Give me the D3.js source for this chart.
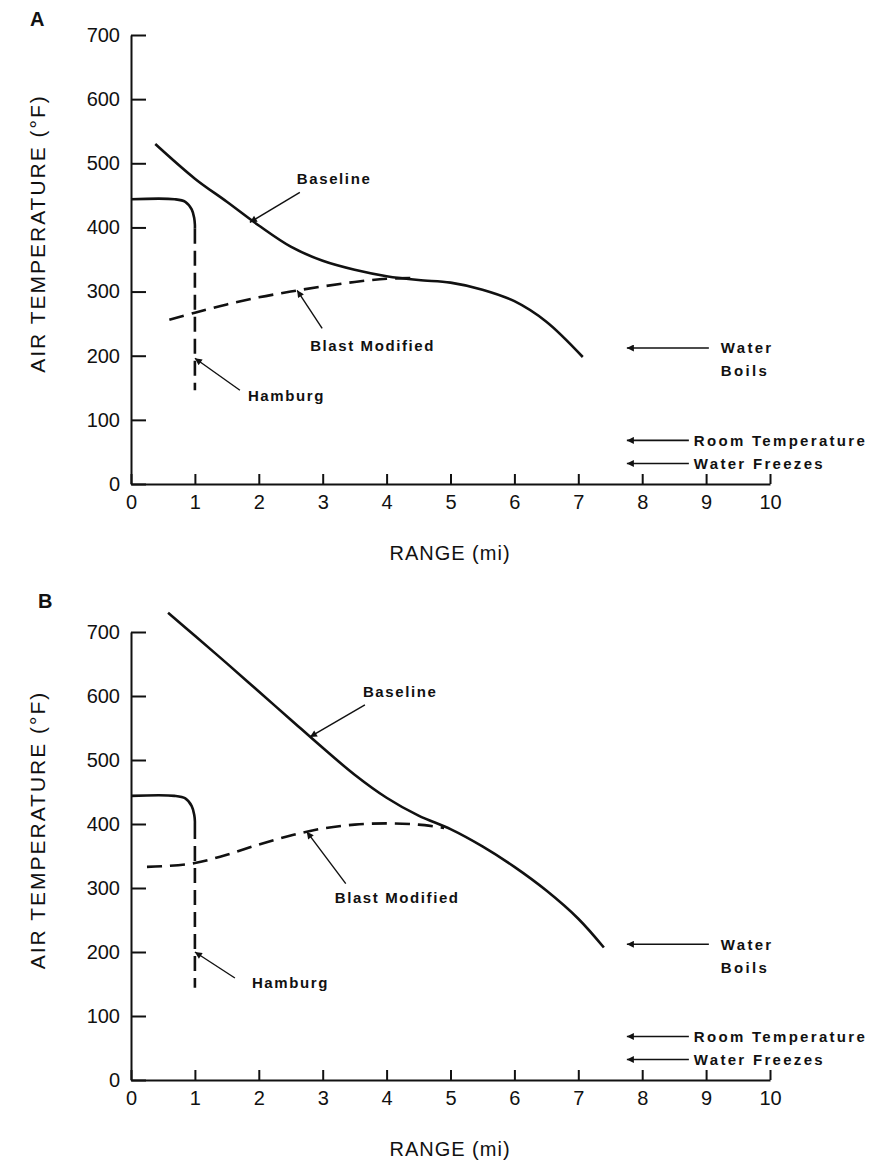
<!DOCTYPE html>
<html>
<head>
<meta charset="utf-8">
<script src="https://cdn.jsdelivr.net/npm/d3@7"></script>
<style>
  body { margin: 0; background: #fff; }
  text { font-family: "Liberation Sans", Arial, sans-serif; fill: #111; }
</style>
</head>
<body>
<div id="chart"></div>
<script>
// tick values
var rangeTicks = [0, 1, 2, 3, 4, 5, 6, 7, 8, 9, 10];
var tempTicks = [0, 100, 200, 300, 400, 500, 600, 700];

// panel A curves, [range (mi), temperature (F)]
var baselineA = [[0.38, 530], [1, 476], [1.5, 440], [2, 403], [2.5, 370], [3, 348], [3.5, 334],
                 [4, 324], [4.5, 318], [5, 314], [5.5, 303], [6, 285], [6.5, 253], [7.07, 198]];
var blastA = [[0.6, 256], [1, 267], [1.5, 280], [2, 291], [2.5, 300], [3, 308], [3.5, 315],
              [4, 320], [4.4, 321]];
var hamburgSolidA = [[0, 444], [0.68, 444], [0.85, 440], [0.95, 428], [0.99, 414], [1, 404], [1, 398]];
var hamburgDashA = [[1, 398], [1, 146]];

// panel B curves
var baselineB = [[0.58, 730], [1, 694], [1.5, 651], [2, 607], [2.5, 563], [3, 519], [3.5, 477],
                 [4, 441], [4.5, 413], [5, 392], [5.5, 365], [6, 333], [6.5, 296], [7, 252], [7.4, 207]];
var blastB = [[0.25, 333], [0.5, 334], [1, 339], [1.5, 352], [2, 368], [2.5, 382], [3, 393],
              [3.5, 399], [4, 401], [4.5, 399], [4.9, 394]];
var hamburgSolidB = [[0, 444], [0.68, 444], [0.85, 440], [0.95, 428], [0.99, 414], [1, 404], [1, 400]];
var hamburgDashB = [[1, 400], [1, 144]];

// reference temperatures on the right
var refTemps = [212, 68, 32];
var refLabels = [["Water", "Boils"], ["Room Temperature"], ["Water Freezes"]];

var width = 876, height = 1163;

var svg = d3.select("#chart").append("svg")
    .attr("width", width)
    .attr("height", height);

// arrow head
svg.append("defs").append("marker")
    .attr("id", "head")
    .attr("viewBox", "0 0 10 10")
    .attr("refX", 10)
    .attr("refY", 5)
    .attr("markerUnits", "userSpaceOnUse")
    .attr("markerWidth", 13)
    .attr("markerHeight", 7)
    .attr("orient", "auto")
    .append("path")
    .attr("d", "M0,0 L10,5 L0,10 z")
    .style("fill", "#111");

var panels = [
  { letter: "A", letterPos: [30, 26], y0: 484, y1: 35,
    baseline: baselineA, blast: blastA, hamSolid: hamburgSolidA, hamDash: hamburgDashA,
    callouts: [
      { text: "Baseline", tip: [1.86, 408], tail: [50, -30], label: [47, -44] },
      { text: "Blast Modified", tip: [2.6, 302], tail: [25, 38], label: [13, 55] },
      { text: "Hamburg", tip: [1, 196], tail: [45, 32], label: [53, 37] }
    ] },
  { letter: "B", letterPos: [38, 608], y0: 1080, y1: 632,
    baseline: baselineB, blast: blastB, hamSolid: hamburgSolidB, hamDash: hamburgDashB,
    callouts: [
      { text: "Baseline", tip: [2.8, 536], tail: [55, -32], label: [53, -45] },
      { text: "Blast Modified", tip: [2.75, 388], tail: [39, 52], label: [28, 66] },
      { text: "Hamburg", tip: [1, 200], tail: [40, 26], label: [57, 31] }
    ] }
];

panels.forEach(function(p) {
    var x = d3.scaleLinear().domain([0, 10]).range([131, 770]);
    var y = d3.scaleLinear().domain([0, 700]).range([p.y0, p.y1]);
    var g = svg.append("g");

    // panel letter
    g.append("text")
        .attr("x", p.letterPos[0])
        .attr("y", p.letterPos[1])
        .style("font-size", "20px")
        .style("font-weight", "bold")
        .text(p.letter);

    // x axis, ticks pointing up
    var xAxis = g.append("g")
        .attr("transform", "translate(0," + p.y0 + ")")
        .call(d3.axisBottom(x).tickValues(rangeTicks).tickSizeInner(-10).tickSizeOuter(0).tickPadding(11));

    // y axis, ticks pointing right
    var yAxis = g.append("g")
        .attr("transform", "translate(131,0)")
        .call(d3.axisLeft(y).tickValues(tempTicks).tickSizeInner(-15).tickSizeOuter(0).tickPadding(11));

    [xAxis, yAxis].forEach(function(a) {
        a.selectAll("path, line").style("stroke", "#111").style("stroke-width", 2);
        a.selectAll("text")
            .style("font-size", "20px")
            .style("font-family", "'Liberation Sans', Arial, sans-serif")
            .style("fill", "#111");
    });

    // axis titles
    g.append("text")
        .attr("x", 450)
        .attr("y", p.y0 + 76)
        .attr("text-anchor", "middle")
        .style("font-size", "20px")
        .style("letter-spacing", "1px")
        .text("RANGE (mi)");

    g.append("text")
        .attr("transform", "translate(45," + ((p.y0 + p.y1) / 2 - 26) + ") rotate(-90)")
        .attr("text-anchor", "middle")
        .style("font-size", "21px")
        .style("letter-spacing", "2px")
        .text("AIR TEMPERATURE (°F)");

    var line = d3.line()
        .x(function(d) { return x(d[0]); })
        .y(function(d) { return y(d[1]); });

    // baseline
    g.append("path")
        .datum(p.baseline)
        .attr("d", line.curve(d3.curveCatmullRom.alpha(0.5)))
        .style("fill", "none").style("stroke", "#111").style("stroke-width", 2.6);

    // blast modified
    g.append("path")
        .datum(p.blast)
        .attr("d", line.curve(d3.curveCatmullRom.alpha(0.5)))
        .style("fill", "none").style("stroke", "#111").style("stroke-width", 2.6)
        .style("stroke-dasharray", "15,8");

    // Hamburg
    g.append("path")
        .datum(p.hamSolid)
        .attr("d", line.curve(d3.curveCatmullRom.alpha(0.5)))
        .style("fill", "none").style("stroke", "#111").style("stroke-width", 2.6);
    g.append("path")
        .datum(p.hamDash)
        .attr("d", line.curve(d3.curveLinear))
        .style("fill", "none").style("stroke", "#111").style("stroke-width", 2.6)
        .style("stroke-dasharray", "15,7");

    // callouts
    p.callouts.forEach(function(c) {
        var tx = x(c.tip[0]), ty = y(c.tip[1]);
        g.append("line")
            .attr("x1", tx + c.tail[0]).attr("y1", ty + c.tail[1])
            .attr("x2", tx).attr("y2", ty)
            .attr("marker-end", "url(#head)")
            .style("stroke", "#111").style("stroke-width", 1.4);
        g.append("text")
            .attr("x", tx + c.label[0])
            .attr("y", ty + c.label[1])
            .attr("dy", "0.36em")
            .style("font-size", "15px")
            .style("font-weight", "bold")
            .style("letter-spacing", "1.6px")
            .text(c.text);
    });

    // reference temperatures
    refTemps.forEach(function(t, i) {
        var hx = x(7.76), ry = y(t);
        var len = i === 0 ? 82 : 62;
        g.append("line")
            .attr("x1", hx + len).attr("y1", ry)
            .attr("x2", hx).attr("y2", ry)
            .attr("marker-end", "url(#head)")
            .style("stroke", "#111").style("stroke-width", 1.6);
        refLabels[i].forEach(function(s, j) {
            g.append("text")
                .attr("x", hx + len + (i === 0 ? 12 : 5))
                .attr("y", ry + j * 23)
                .attr("dy", "0.36em")
                .style("font-size", "15px")
                .style("font-weight", "bold")
                .style("letter-spacing", "2.3px")
                .text(s);
        });
    });
});
</script>
</body>
</html>
